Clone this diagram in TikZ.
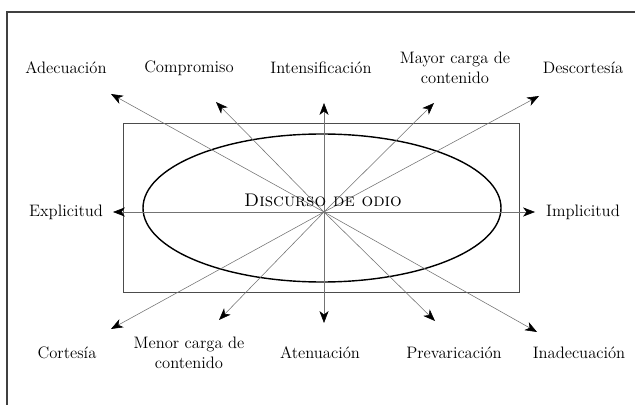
\documentclass[tikz,border=0pt]{standalone}
\usepackage{fontspec}
\usetikzlibrary{arrows.meta}

\tikzset{
  etiqueta/.style={font=\fontsize{11.8}{14}\selectfont, text=black, align=center, inner sep=0pt},
  flecha/.style={draw=black!55, line width=0.4pt, -{Stealth[length=8.5pt, width=6.5pt, inset=2.5pt, black]}}
}

\begin{document}
\begin{tikzpicture}[x=0.025cm, y=-0.025cm]
\useasboundingbox (0,0) rectangle (635,405);
\draw [line width=1.4pt, color=black!75] (7,405) -- (7,12) -- (635,12);

\draw [color=black!70, line width=0.7pt] (123,123) rectangle (519,292);
\draw [line width=1pt] (322,208) ellipse [x radius=179, y radius=74];

\coordinate (c) at (324,212);
\coordinate (t-adec) at (111,94);
\coordinate (t-comp) at (216,102);
\coordinate (t-int) at (324,103);
\coordinate (t-mayor) at (434,103);
\coordinate (t-desc) at (539,96);
\coordinate (t-expl) at (113,212);
\coordinate (t-impl) at (535,212);
\coordinate (t-cort) at (111,329);
\coordinate (t-menor) at (219,320);
\coordinate (t-aten) at (324,323);
\coordinate (t-prev) at (435,321);
\coordinate (t-inad) at (537,332);

\draw [flecha] (c) -- (t-adec);
\draw [flecha] (c) -- (t-comp);
\draw [flecha] (c) -- (t-int);
\draw [flecha] (c) -- (t-mayor);
\draw [flecha] (c) -- (t-desc);
\draw [flecha] (c) -- (t-expl);
\draw [flecha] (c) -- (t-impl);
\draw [flecha] (c) -- (t-cort);
\draw [flecha] (c) -- (t-menor);
\draw [flecha] (c) -- (t-aten);
\draw [flecha] (c) -- (t-prev);
\draw [flecha] (c) -- (t-inad);

\node (discurso) [at={(323,200)}, font=\fontsize{13}{15}\selectfont] {\textsc{Discurso de odio}};

\node (adec) [etiqueta, at={(66,68)}] {Adecuación};
\node (comp) [etiqueta, at={(189,68)}] {Compromiso};
\node (int) [etiqueta, at={(321,68)}] {Intensificación};
\node (mayor) [etiqueta, at={(455,68)}] {Mayor carga de\\contenido};
\node (desc) [etiqueta, at={(583,68)}] {Descortesía};
\node (expl) [etiqueta, at={(66,212)}] {Explicitud};
\node (impl) [etiqueta, at={(583,212)}] {Implicitud};
\node (cort) [etiqueta, at={(67,353)}] {Cortesía};
\node (menor) [etiqueta, at={(189,353)}] {Menor carga de\\contenido};
\node (aten) [etiqueta, at={(320,353)}] {Atenuación};
\node (prev) [etiqueta, at={(454,353)}] {Prevaricación};
\node (inad) [etiqueta, at={(579,353)}] {Inadecuación};
\end{tikzpicture}
\end{document}
